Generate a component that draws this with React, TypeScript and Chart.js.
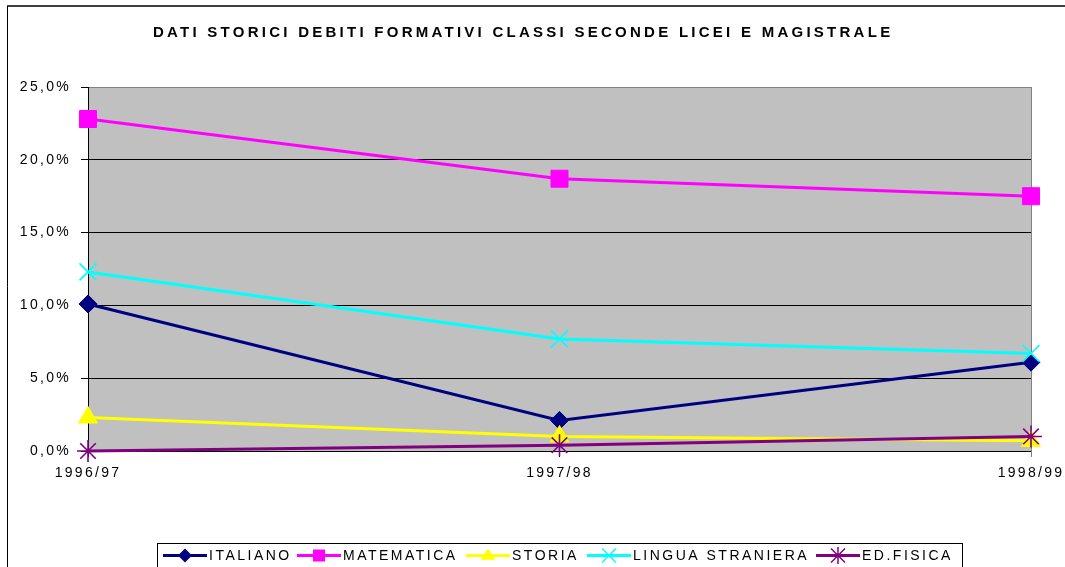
import React, { useEffect, useRef } from 'react';
import { Chart, registerables } from 'chart.js';

Chart.register(...registerables);

const TITLE = 'DATI STORICI DEBITI FORMATIVI CLASSI SECONDE LICEI E MAGISTRALE';
const categories = ['1996/97', '1997/98', '1998/99'];
const italiano = [10.1, 2.1, 6.1];
const matematica = [22.8, 18.7, 17.5];
const storia = [2.3, 1.0, 0.7];
const linguaStraniera = [12.3, 7.7, 6.7];
const edFisica = [0.0, 0.4, 1.0];
const seriesNames = ['ITALIANO', 'MATEMATICA', 'STORIA', 'LINGUA STRANIERA', 'ED.FISICA'];
const seriesColors = ['#000080', '#FF00FF', '#FFFF00', '#00FFFF', '#800080'];
const seriesMarkers = ['rectRot', 'rect', 'triangle', 'crossRot', 'star'];
const markerRadius = [9, 12, 11, 12, 11];
const yMin = 0;
const yMax = 25;
const yStep = 5;

const FONT = '"Liberation Sans", Arial, sans-serif';

function drawMarker(ctx: CanvasRenderingContext2D, style: string, x: number, y: number, s: number, color: string) {
  ctx.save();
  ctx.fillStyle = color;
  ctx.strokeStyle = color;
  ctx.lineWidth = 1.5;
  ctx.beginPath();
  if (style === 'rectRot') {
    ctx.moveTo(x - s, y);
    ctx.lineTo(x, y - s);
    ctx.lineTo(x + s, y);
    ctx.lineTo(x, y + s);
    ctx.closePath();
    ctx.fill();
  } else if (style === 'rect') {
    ctx.rect(x - s, y - s, 2 * s, 2 * s);
    ctx.fill();
  } else if (style === 'triangle') {
    ctx.moveTo(x, y - s);
    ctx.lineTo(x + s * 1.05, y + s * 0.6);
    ctx.lineTo(x - s * 1.05, y + s * 0.6);
    ctx.closePath();
    ctx.fill();
  } else if (style === 'crossRot') {
    ctx.moveTo(x - s, y - s);
    ctx.lineTo(x + s, y + s);
    ctx.moveTo(x + s, y - s);
    ctx.lineTo(x - s, y + s);
    ctx.stroke();
  } else {
    ctx.moveTo(x - s, y - s);
    ctx.lineTo(x + s, y + s);
    ctx.moveTo(x + s, y - s);
    ctx.lineTo(x - s, y + s);
    ctx.moveTo(x, y - s * 1.2);
    ctx.lineTo(x, y + s * 1.2);
    ctx.stroke();
  }
  ctx.restore();
}

const decorPlugin = {
  id: 'decor',
  beforeDraw(chart: any) {
    const { ctx, chartArea, width, height } = chart;
    ctx.save();
    ctx.fillStyle = '#FFFFFF';
    ctx.fillRect(0, 0, width, height);
    ctx.fillStyle = '#C0C0C0';
    ctx.fillRect(chartArea.left, chartArea.top, chartArea.right - chartArea.left, chartArea.bottom - chartArea.top);
    ctx.restore();
    (ctx as any).letterSpacing = '2.3px';
  },
  beforeDatasetsDraw(chart: any) {
    const { ctx, chartArea } = chart;
    ctx.save();
    ctx.strokeStyle = '#808080';
    ctx.lineWidth = 1;
    ctx.beginPath();
    ctx.moveTo(Math.round(chartArea.right) + 0.5, chartArea.top);
    ctx.lineTo(Math.round(chartArea.right) + 0.5, chartArea.bottom + 6);
    ctx.stroke();
    ctx.restore();
  },
  afterDraw(chart: any) {
    const { ctx, width, height } = chart;
    ctx.save();
    // outer frame
    ctx.letterSpacing = '0px';
    ctx.strokeStyle = '#404040';
    ctx.lineWidth = 2;
    ctx.beginPath();
    ctx.moveTo(7, 6);
    ctx.lineTo(width, 6);
    ctx.stroke();
    ctx.strokeStyle = '#000000';
    ctx.lineWidth = 1;
    ctx.beginPath();
    ctx.moveTo(7.5, 6);
    ctx.lineTo(7.5, height);
    ctx.stroke();

    // title (bold, letter-spaced)
    ctx.font = 'bold 15px ' + FONT;
    ctx.fillStyle = '#000000';
    ctx.textBaseline = 'alphabetic';
    ctx.textAlign = 'left';
    const w0 = ctx.measureText(TITLE).width;
    const sp = (737 - w0) / (TITLE.length - 1);
    ctx.letterSpacing = sp.toFixed(2) + 'px';
    ctx.fillText(TITLE, 153, 36.5);

    // legend
    const textStarts = [209, 343, 512, 633, 862];
    const ly = 555.5;
    ctx.strokeStyle = '#000000';
    ctx.lineWidth = 1;
    ctx.strokeRect(157.5, 543.5, 805, 40);
    ctx.font = '14px ' + FONT;
    ctx.letterSpacing = '2.5px';
    ctx.textBaseline = 'middle';
    chart.data.datasets.forEach((ds: any, i: number) => {
      const tx = textStarts[i];
      const sx = tx - 46;
      ctx.strokeStyle = ds.borderColor;
      ctx.lineWidth = 3;
      ctx.beginPath();
      ctx.moveTo(sx, ly);
      ctx.lineTo(sx + 44, ly);
      ctx.stroke();
      const ms = ds.pointStyle === 'rect' ? 6 : 7;
      drawMarker(ctx, ds.pointStyle, sx + 22, ly, ms, ds.borderColor);
      ctx.fillStyle = '#000000';
      ctx.fillText(ds.label, tx, ly + 1);
    });
    ctx.restore();
    (ctx as any).letterSpacing = '0px';
  },
};

export default function App() {
  const ref = useRef<HTMLCanvasElement | null>(null);
  useEffect(() => {
    if (!ref.current) return;
    const values = [italiano, matematica, storia, linguaStraniera, edFisica];
    const datasets = values.map((data, i) => ({
      label: seriesNames[i],
      data,
      borderColor: seriesColors[i],
      backgroundColor: seriesColors[i],
      pointBackgroundColor: seriesColors[i],
      pointBorderColor: seriesColors[i],
      pointStyle: seriesMarkers[i],
      pointRadius: markerRadius[i],
      pointBorderWidth: i >= 3 ? 1.6 : 1,
      borderWidth: 3,
      tension: 0,
      fill: false,
      clip: false as any,
      order: values.length - i,
    }));
    const chart = new Chart(ref.current, {
      type: 'line',
      data: { labels: categories, datasets },
      options: {
        responsive: false,
        animation: false,
        layout: { padding: { left: 0, right: 34, top: 87, bottom: 0 } },
        plugins: {
          legend: { display: false },
          title: { display: false },
          tooltip: { enabled: false },
        },
        scales: {
          x: {
            type: 'category',
            offset: false,
            grid: { display: true, drawOnChartArea: false, drawTicks: true, tickLength: 6, color: '#000000' },
            border: { display: true, color: '#000000', width: 1 },
            ticks: { color: '#000000', font: { family: FONT, size: 14 }, padding: 8, maxRotation: 0, autoSkip: false },
            afterFit: (s: any) => { s.height = 116; },
          },
          y: {
            min: yMin,
            max: yMax,
            ticks: {
              stepSize: yStep,
              color: '#000000',
              font: { family: FONT, size: 14 },
              padding: 10,
              callback: (v: any) => Number(v).toFixed(1).replace('.', ',') + '%',
            },
            grid: {
              color: (c: any) => (c.tick && c.tick.value === yMax ? '#808080' : '#000000'),
              tickColor: '#000000',
              tickLength: 7,
              lineWidth: 1,
            },
            border: { display: true, color: '#000000', width: 1 },
            afterFit: (s: any) => { s.width = 88; },
          },
        },
      },
      plugins: [decorPlugin],
    });
    return () => chart.destroy();
  }, []);
  return (
    <div style={{ position: 'absolute', left: 0, top: 0, width: 1065, height: 567 }}>
      <canvas ref={ref} width={1065} height={567} />
    </div>
  );
}
